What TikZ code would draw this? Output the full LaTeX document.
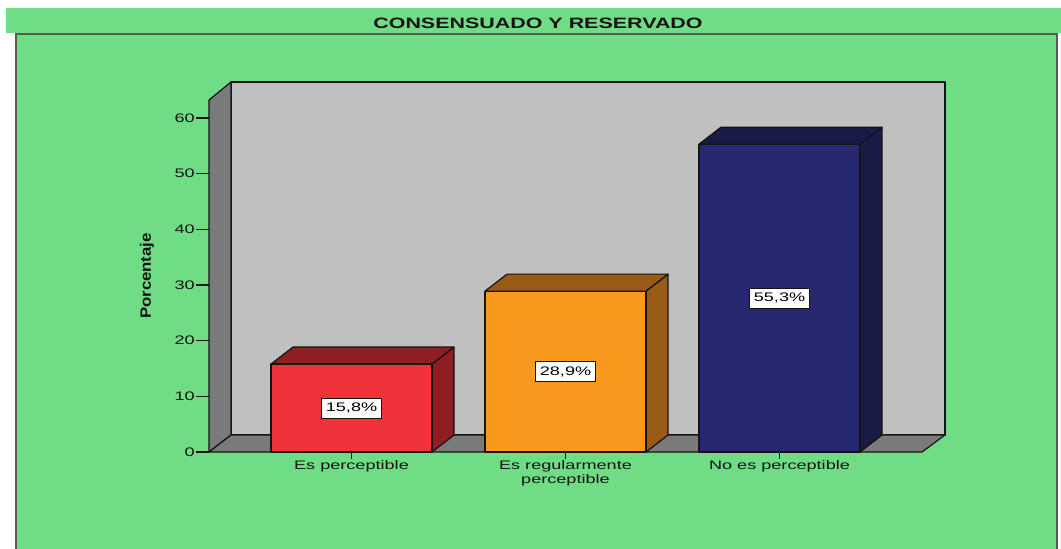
\documentclass[tikz,border=0pt]{standalone}
\usepackage{fontspec}
\setmainfont{Liberation Sans}
\newfontfamily\wfont[FakeStretch=1.46]{Liberation Sans}
\newfontfamily\tfont[FakeStretch=1.43]{Liberation Sans}
\newfontfamily\pfont[FakeStretch=1.12]{Liberation Sans}
\definecolor{bggreen}{HTML}{70DC86}
\definecolor{wallback}{HTML}{C0C0C0}
\definecolor{wallside}{HTML}{7A7A7A}
\definecolor{redF}{HTML}{F0323A}
\definecolor{redD}{HTML}{8E1E22}
\definecolor{orgF}{HTML}{F89A1E}
\definecolor{orgD}{HTML}{985A14}
\definecolor{navF}{HTML}{282870}
\definecolor{navD}{HTML}{1A1A46}
\definecolor{ink}{HTML}{141414}
\tikzset{
  edge/.style={draw=ink, line width=1.2pt, line join=round},
  valbox/.style={draw=ink, fill=white, line width=0.8pt, minimum width=60pt, minimum height=20pt, inner sep=1pt, font=\wfont\fontsize{12.4}{14}\selectfont},
  ticklab/.style={anchor=east, inner sep=0pt, font=\wfont\fontsize{12.4}{14}\selectfont, text=ink},
  catlab/.style={anchor=north, inner sep=0pt, align=center, font=\wfont\fontsize{12.4}{14}\selectfont, text=ink},
}
\begin{document}
\begin{tikzpicture}[x=1pt, y=-1pt]
\useasboundingbox (0,0) rectangle (1061,549);
\fill[white] (0,0) rectangle (1061,549);
% title band
\fill[bggreen] (6,8) rectangle (1061,33);
\node[anchor=base, inner sep=0pt, text=ink, font=\tfont\bfseries\fontsize{15}{17}\selectfont] (title) at (538,28) {CONSENSUADO Y RESERVADO};
% panel
\fill[bggreen] (16,34) rectangle (1057,549);
\draw[line width=1.6pt, color=black!65] (16,549) -- (16,34) -- (1057,34) -- (1057,549);
% back wall
\filldraw[edge, fill=wallback] (231,82) rectangle (945,435);
% left side wall
\filldraw[edge, fill=wallside] (209,100) -- (231,82) -- (231,435) -- (209,452) -- cycle;
% floor
\filldraw[edge, fill=wallside] (209,452) -- (231,435) -- (945,435) -- (922,452) -- cycle;
% y ticks
\foreach \v in {0,...,6}{
  \pgfmathsetmacro\yy{452-\v*55.667}
  \pgfmathtruncatemacro\lab{\v*10}
  \draw[ink, line width=1.2pt] (196,\yy) -- (209,\yy);
  \node[ticklab] (t\v) at (195,\yy) {\lab};
}
% bars
\foreach \xa/\h/\fc/\dc/\lab/\n in {271/15.8/redF/redD/{15,8\%}/a, 485/28.9/orgF/orgD/{28,9\%}/b, 699/55.3/navF/navD/{55,3\%}/c}{
  \pgfmathsetmacro\yt{452-\h*5.5667}
  \filldraw[edge, fill=\dc] (\xa+161,452) -- (\xa+161,\yt) -- (\xa+183,\yt-17) -- (\xa+183,435) -- cycle;
  \filldraw[edge, fill=\dc] (\xa,\yt) -- (\xa+22,\yt-17) -- (\xa+183,\yt-17) -- (\xa+161,\yt) -- cycle;
  \filldraw[edge, fill=\fc] (\xa,452) rectangle (\xa+161,\yt);
  \node[valbox] (v\n) at (\xa+80.5,{(452+\yt)/2}) {\lab};
  \draw[ink, line width=1.2pt] (\xa+80.5,452) -- (\xa+80.5,459);
}
% category labels
\node[catlab] (ca) at (351.5,460) {Es perceptible};
\node[catlab] (cb) at (565.5,460) {Es regularmente\\perceptible};
\node[catlab] (cc) at (779.5,460) {No es perceptible};
% y label
\node[rotate=90, text=ink, font=\pfont\bfseries\fontsize{15}{17}\selectfont] (ylab) at (147,276) {Porcentaje};
\end{tikzpicture}
\end{document}
